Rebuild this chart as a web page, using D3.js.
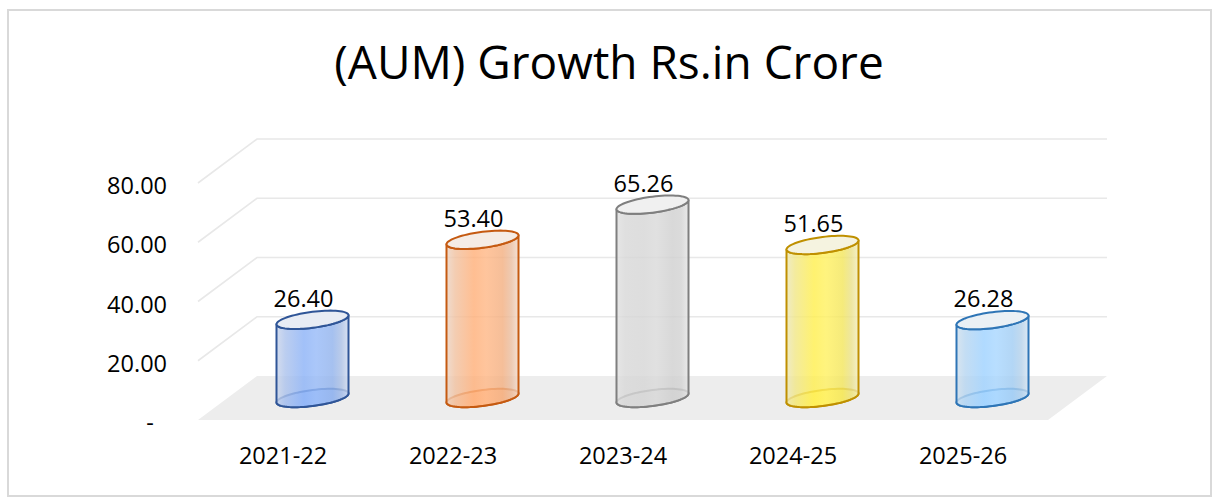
<!DOCTYPE html>
<html><head><meta charset="utf-8">
<script src="https://cdn.jsdelivr.net/npm/d3@7"></script>
<style>
html,body{margin:0;padding:0;background:#fff;}
svg{display:block;font-family:"Open Sans", Lato, sans-serif;}
</style></head>
<body>
<svg id="chart" width="1222" height="500"></svg>
<script>
const title = "(AUM) Growth Rs.in Crore";
const categories = ["2021-22","2022-23","2023-24","2024-25","2025-26"];
const values = [26.40, 53.40, 65.26, 51.65, 26.28];
const valueLabels = ["26.40","53.40","65.26","51.65","26.28"];
const yTicks = [0, 20, 40, 60, 80];
const yTickLabels = ["-", "20.00", "40.00", "60.00", "80.00"];

const fillColors = ["#8DB3F7","#FFB07A","#D6D6D6","#FFEF50","#9FD2FF"];
const strokeColors = ["#2F5597","#C55A11","#7F7F7F","#BF9000","#2E75B6"];

const svg = d3.select("#chart");
const labelSize = 23.5;

// border
svg.append("rect").attr("x",8).attr("y",10).attr("width",1203).attr("height",486)
  .attr("fill","#fff").attr("stroke","#D9D9D9").attr("stroke-width",2);

// title (fit to reference width)
const tt = svg.append("text").attr("x",609).attr("y",79).attr("text-anchor","middle")
  .attr("font-size",40).attr("fill","#000").text(title);
const tw = tt.node().getComputedTextLength();
tt.attr("font-size", Math.min(46, 40 * 552 / tw));

// 3D geometry
const depth = {dx: 59, dy: -44};
const x = d3.scaleBand().domain(categories).range([198, 1048]);
const y = d3.scaleLinear().domain([0, 80]).range([420, 183]);

// floor
const g = svg.append("g");
g.append("polygon")
  .attr("points", [
    [x.range()[0], y(0)],
    [x.range()[0] + depth.dx, y(0) + depth.dy],
    [x.range()[1] + depth.dx, y(0) + depth.dy],
    [x.range()[1], y(0)]
  ].map(p => p.join(",")).join(" "))
  .attr("fill", "#EDEDED");

// gridlines
yTicks.filter(t => t > 0).forEach(t => {
  const x0 = x.range()[0], x1 = x.range()[1];
  g.append("polyline")
    .attr("points", [[x0, y(t)], [x0 + depth.dx, y(t) + depth.dy], [x1 + depth.dx, y(t) + depth.dy]].map(p => p.join(",")).join(" "))
    .attr("fill", "none").attr("stroke", "#E8E8E8").attr("stroke-width", 1.6);
});

// y labels
yTicks.forEach((t, i) => {
  const lbl = yTickLabels[i];
  svg.append("text")
    .attr("x", lbl === "-" ? 150 : 167)
    .attr("y", y(t) + 2)
    .attr("text-anchor", lbl === "-" ? "middle" : "end")
    .attr("dominant-baseline", "central")
    .attr("font-size", labelSize).attr("fill", "#000").text(lbl);
});

// category labels
categories.forEach(c => {
  svg.append("text").attr("x", x(c) + x.bandwidth()/2).attr("y", 464)
    .attr("text-anchor", "middle").attr("font-size", labelSize).attr("fill", "#000").text(c);
});

// gradients
const defs = svg.append("defs");
function mix(a, b, t){ return d3.interpolateRgb(a, b)(t); }
fillColors.forEach((c, i) => {
  const grad = defs.append("linearGradient").attr("id", "grad" + i)
    .attr("x1", "0%").attr("x2", "100%").attr("y1", "0%").attr("y2", "0%");
  const stops = [
    [0, mix(c, "#e4e4e4", 0.7)],
    [0.12, mix(c, "#dcdcdc", 0.4)],
    [0.38, c],
    [0.55, mix(c, "#ffffff", 0.1)],
    [0.78, mix(c, "#b0b0b0", 0.15)],
    [0.9, mix(c, "#d0d0d0", 0.45)],
    [1, mix(c, "#ececec", 0.7)]
  ];
  stops.forEach(s => grad.append("stop").attr("offset", s[0]).attr("stop-color", s[1]));
});

// cylinders
const rx = 36, ry = 8, shear = 0.125;
function ellPt(cx, cy, t){
  return [cx + rx * Math.cos(t), cy + ry * Math.sin(t) - shear * rx * Math.cos(t)];
}
function ellipsePath(cx, cy){
  const pts = d3.range(0, 73).map(k => ellPt(cx, cy, k / 72 * 2 * Math.PI));
  return d3.line()(pts) + "Z";
}
function bodyPath(cx, cyTop, cyBot){
  const pts = [];
  for (let k = 0; k <= 36; k++){ pts.push(ellPt(cx, cyBot, Math.PI - k / 36 * Math.PI)); }
  for (let k = 0; k <= 36; k++){ pts.push(ellPt(cx, cyTop, k / 36 * Math.PI)); }
  return d3.line()(pts) + "Z";
}

categories.forEach((c, i) => {
  const cx = x(c) + x.bandwidth()/2 + depth.dx/2;
  const cyBot = y(0) + depth.dy/2;
  const cyTop = y(values[i]) + depth.dy/2;
  const cg = svg.append("g");
  cg.append("path").attr("d", ellipsePath(cx, cyBot))
    .attr("fill", mix(fillColors[i], "#ffffff", 0.2)).attr("fill-opacity", 0.85)
    .attr("stroke", strokeColors[i]).attr("stroke-width", 2);
  cg.append("path").attr("d", bodyPath(cx, cyTop, cyBot))
    .attr("fill", "url(#grad" + i + ")").attr("fill-opacity", 0.82)
    .attr("stroke", strokeColors[i]).attr("stroke-width", 2).attr("stroke-linejoin", "round");
  cg.append("path").attr("d", ellipsePath(cx, cyTop))
    .attr("fill", mix(fillColors[i], "#f4f4f4", 0.88))
    .attr("stroke", strokeColors[i]).attr("stroke-width", 2);
  svg.append("text").attr("x", cx - 9).attr("y", cyTop - 13)
    .attr("text-anchor", "middle").attr("font-size", labelSize).attr("fill", "#000")
    .text(valueLabels[i]);
});
</script>
</body></html>
